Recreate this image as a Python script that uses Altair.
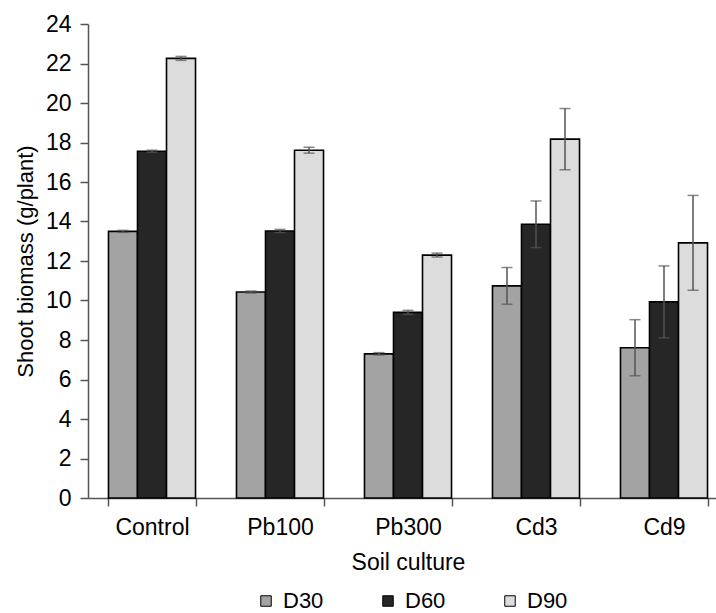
import altair as alt
import pandas as pd

categories = ["Control", "Pb100", "Pb300", "Cd3", "Cd9"]
series = ["D30", "D60", "D90"]
d30 = [13.5, 10.43, 7.3, 10.74, 7.61]
d60 = [17.56, 13.52, 9.4, 13.86, 9.93]
d90 = [22.26, 17.61, 12.3, 18.17, 12.92]
err30 = [0.05, 0.05, 0.06, 0.93, 1.42]
err60 = [0.05, 0.08, 0.1, 1.18, 1.82]
err90 = [0.1, 0.15, 0.1, 1.55, 2.4]
y_ticks = [0, 2, 4, 6, 8, 10, 12, 14, 16, 18, 20, 22, 24]
fills = ["#a3a3a3", "#262626", "#dcdcdc"]

rows = []
for s, vals, errs in zip(series, [d30, d60, d90], [err30, err60, err90]):
    for c, v, e in zip(categories, vals, errs):
        rows.append({"category": c, "series": s, "value": v, "err": e})
df = pd.DataFrame(rows)

FONT = "Liberation Sans"
AX = "#555555"
YTITLE = "Shoot biomass (g/plant)"

xs = alt.Scale(domain=categories, range=[0, 640], paddingInner=0.32, paddingOuter=0.16)
xo = alt.Scale(domain=series, paddingInner=0, paddingOuter=0)
ys = alt.Scale(domain=[0, 24], nice=False, zero=True)

x_enc = alt.X(
    "category:N", scale=xs, sort=categories, title="Soil culture",
    axis=alt.Axis(tickBand="extent", tickSize=8, tickWidth=1.5, tickColor=AX,
                  domainColor=AX, domainWidth=1.5, labelAngle=0, labelFontSize=23,
                  labelPadding=10, labelColor="black", titleFontSize=23,
                  titleFontWeight="normal", titleColor="black", titlePadding=12),
)
xo_enc = alt.XOffset("series:N", scale=xo, sort=series)
y_axis = alt.Axis(values=y_ticks, labelOverlap=False, tickSize=8, tickWidth=1.5,
                  tickColor=AX, domainColor=AX, domainWidth=1.5, grid=False,
                  labelFontSize=23, labelPadding=9, labelColor="black",
                  titleFontSize=22, titleFontWeight="normal", titleColor="black",
                  titlePadding=8)

base = alt.Chart(df).transform_calculate(
    lo="datum.value - datum.err", hi="datum.value + datum.err"
)

bars = base.mark_bar(stroke="black", strokeWidth=1.6).encode(
    x=x_enc,
    xOffset=xo_enc,
    y=alt.Y("value:Q", scale=ys, title=YTITLE, axis=y_axis),
    color=alt.Color(
        "series:N", scale=alt.Scale(domain=series, range=fills),
        legend=alt.Legend(orient="none", legendX=167, legendY=566, direction="horizontal",
                          title=None, symbolType="square", symbolSize=110,
                          symbolStrokeColor="black", symbolStrokeWidth=1,
                          labelFontSize=22, labelColor="black", columnPadding=53,
                          labelOffset=6),
    ),
)

rules = base.mark_rule(color=AX, strokeWidth=1.5).encode(
    x=x_enc, xOffset=xo_enc,
    y=alt.Y("lo:Q", scale=ys, title=YTITLE, axis=y_axis), y2="hi:Q"
)
caps_hi = base.mark_tick(color=AX, thickness=1.5, size=11).encode(
    x=x_enc, xOffset=xo_enc, y=alt.Y("hi:Q", scale=ys, title=YTITLE, axis=y_axis)
)
caps_lo = base.mark_tick(color=AX, thickness=1.5, size=11).encode(
    x=x_enc, xOffset=xo_enc, y=alt.Y("lo:Q", scale=ys, title=YTITLE, axis=y_axis)
)

chart = (
    alt.layer(bars, rules, caps_hi, caps_lo)
    .properties(
        width=628, height=474,
        autosize=alt.AutoSizeParams(type="none"),
        padding={"left": 88, "top": 24, "right": 0, "bottom": 115},
    )
    .configure(font=FONT)
    .configure_view(strokeWidth=0)
)

chart.save("out.html", embed_options={"renderer": "svg", "actions": False})
